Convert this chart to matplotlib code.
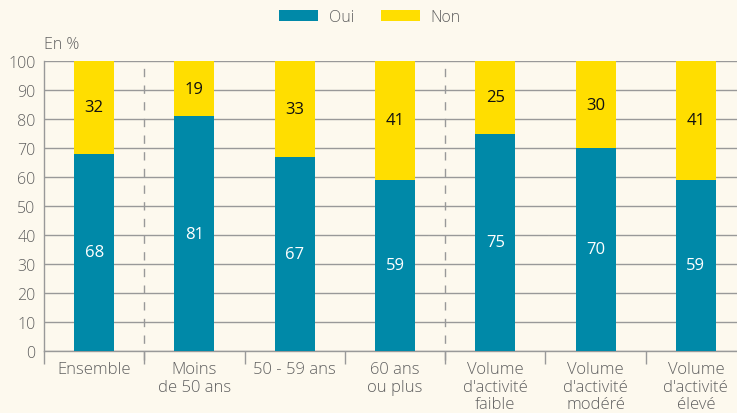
import numpy as np
import matplotlib.pyplot as plt

# Data
categories = ["Ensemble", "Moins\nde 50 ans", "50 - 59 ans", "60 ans\nou plus",
              "Volume\nd'activité\nfaible", "Volume\nd'activité\nmodéré",
              "Volume\nd'activité\nélevé"]
oui = [68, 81, 67, 59, 75, 70, 59]
non = [32, 19, 33, 41, 25, 30, 41]

bg = "#fdf9ee"
teal = "#0089a8"
yellow = "#ffde00"
grey = "#999999"
txt = "#606060"

plt.rcParams['font.family'] = ['Open Sans', 'DejaVu Sans']
plt.rcParams['font.weight'] = 'light'

fig = plt.figure(figsize=(7.37, 4.14), dpi=100, facecolor=bg)
ax = fig.add_axes([44 / 737, 1 - 352 / 414, 702 / 737, 290 / 414])
ax.set_facecolor(bg)

x = np.arange(len(categories))
b1 = ax.bar(x, oui, width=0.4, color=teal, label="Oui", zorder=3)
b2 = ax.bar(x, non, width=0.4, bottom=oui, color=yellow, label="Non", zorder=3)

for i in range(len(x)):
    ax.text(x[i], oui[i] / 2, str(oui[i]), ha='center', va='center',
            color='white', fontsize=12, fontweight='normal', zorder=4)
    ax.text(x[i], oui[i] + non[i] / 2, str(non[i]), ha='center', va='center',
            color='#111111', fontsize=12, fontweight='normal', zorder=4)

ax.set_xlim(-0.5, 6.5)
ax.set_ylim(0, 100)
ax.set_yticks(range(0, 101, 10))
ax.yaxis.grid(True, color=grey, linewidth=1, zorder=0)
ax.tick_params(axis='y', length=0, labelsize=11.5, labelcolor=txt, pad=6)

# category labels centered, ticks at boundaries
ax.set_xticks(x)
ax.set_xticklabels(categories, fontsize=12, color=txt, linespacing=1.15)
ax.tick_params(axis='x', which='major', length=0, pad=7)
ax.set_xticks(np.arange(-0.5, 7, 1), minor=True)
ax.tick_params(axis='x', which='minor', length=9, width=1, color=grey)

for s in ['top', 'right']:
    ax.spines[s].set_visible(False)
for s in ['left', 'bottom']:
    ax.spines[s].set_color(grey)
    ax.spines[s].set_linewidth(1)

# dashed separators
for xs in [0.5, 3.5]:
    ax.plot([xs, xs], [-3, 100], color=grey, linestyle=(0, (6, 6)),
            linewidth=1, clip_on=False, zorder=2)

ax.text(0, 1.03, "En %", transform=ax.transAxes, fontsize=11.5, color=txt,
        ha='left', va='bottom')

fig.legend(handles=[b1, b2], labels=["Oui", "Non"], loc='center',
           bbox_to_anchor=(370 / 737, 1 - 18 / 414), ncol=2, frameon=False,
           fontsize=11.5, handlelength=2.45, handleheight=0.65,
           handletextpad=0.65, columnspacing=1.7, labelcolor=txt)

fig.savefig("out.png", dpi=100, facecolor=bg)
